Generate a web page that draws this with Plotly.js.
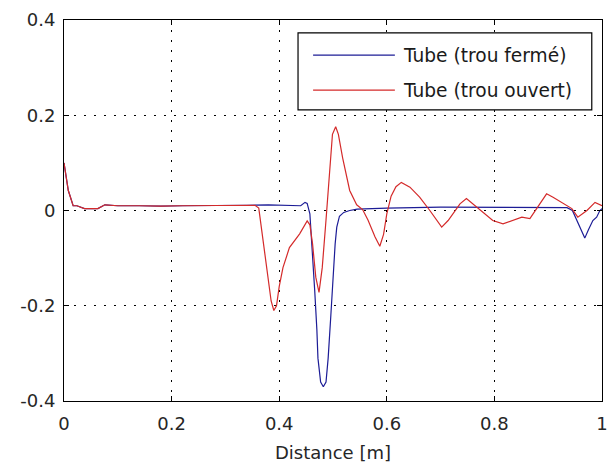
<!DOCTYPE html>
<html>
<head>
<meta charset="utf-8">
<script src="https://cdn.plot.ly/plotly-3.0.1.min.js"></script>
<style>
  html, body { margin: 0; padding: 0; background: #ffffff; }
  #chart { width: 608px; height: 464px; }
</style>
</head>
<body>
<div id="chart"></div>
<script>
// Reflection signal along the tube, closed hole vs. open hole
const seriesNames = ['Tube (trou fermé)', 'Tube (trou ouvert)'];

const closedX = [0, 0.008, 0.017, 0.024, 0.038, 0.063, 0.076, 0.1, 0.14, 0.18, 0.22, 0.26, 0.3, 0.34,
  0.38, 0.42, 0.44, 0.448, 0.452, 0.457, 0.462, 0.466, 0.47, 0.472, 0.477, 0.482, 0.487, 0.491,
  0.496, 0.5, 0.504, 0.507, 0.512, 0.52, 0.531, 0.545, 0.6, 0.7, 0.8, 0.9, 0.935, 0.945, 0.953,
  0.96, 0.968, 0.975, 0.983, 0.99, 0.996, 1.0];
const closedY = [0.1, 0.042, 0.01, 0.01, 0.004, 0.004, 0.012, 0.01, 0.01, 0.009, 0.01, 0.01, 0.01, 0.011,
  0.012, 0.011, 0.01, 0.017, 0.015, -0.007, -0.09, -0.168, -0.25, -0.31, -0.36, -0.37, -0.36, -0.31,
  -0.22, -0.14, -0.07, -0.035, -0.012, -0.004, 0.0, 0.003, 0.005, 0.007, 0.007, 0.007, 0.006, 0.0, -0.021,
  -0.04, -0.058, -0.04, -0.021, -0.014, 0.0, 0.004];

const openX = [0, 0.008, 0.017, 0.024, 0.038, 0.063, 0.076, 0.1, 0.14, 0.18, 0.22, 0.26, 0.3, 0.34,
  0.355, 0.362, 0.37, 0.378, 0.385, 0.39, 0.395, 0.4, 0.407, 0.419, 0.438, 0.452, 0.457, 0.462,
  0.468, 0.474, 0.48, 0.487, 0.493, 0.499, 0.505, 0.51, 0.518, 0.531, 0.544, 0.555, 0.565, 0.578,
  0.587, 0.594, 0.6, 0.608, 0.617, 0.627, 0.643, 0.661, 0.68, 0.702, 0.714, 0.736, 0.748, 0.76,
  0.776, 0.797, 0.816, 0.835, 0.851, 0.866, 0.881, 0.897, 0.909, 0.928, 0.944, 0.955, 0.972,
  0.987, 1.0];
const openY = [0.1, 0.042, 0.01, 0.01, 0.004, 0.004, 0.012, 0.01, 0.01, 0.009, 0.01, 0.01, 0.01, 0.01,
  0.011, 0.005, -0.06, -0.13, -0.19, -0.21, -0.2, -0.16, -0.12, -0.078, -0.049, -0.022, -0.03, -0.07,
  -0.14, -0.172, -0.12, -0.02, 0.08, 0.16, 0.176, 0.16, 0.11, 0.042, 0.012, 0.002, -0.02, -0.055,
  -0.075, -0.05, -0.007, 0.03, 0.05, 0.059, 0.049, 0.028, 0.0, -0.035, -0.021, 0.014, 0.025, 0.014,
  0.0, -0.021, -0.028, -0.021, -0.014, -0.017, 0.007, 0.035, 0.028, 0.014, 0.004, -0.014, 0.0,
  0.017, 0.01];

const xTicks = [0, 0.2, 0.4, 0.6, 0.8, 1];
const xTickText = ['0', '0.2', '0.4', '0.6', '0.8', '1'];
const yTicks = [-0.4, -0.2, 0, 0.2, 0.4];
const yTickText = ['-0.4', '-0.2', '0', '0.2', '0.4'];

const lineColors = ['#1c1c96', '#d42a2a'];
const textFont = { family: 'DejaVu Sans', size: 18, color: '#262626' };
const legendFont = { family: 'DejaVu Sans', size: 18.6, color: '#1a1a1a' };

const traces = [
  { x: closedX, y: closedY, name: seriesNames[0], type: 'scatter', mode: 'lines',
    line: { color: lineColors[0], width: 1.2 } },
  { x: openX, y: openY, name: seriesNames[1], type: 'scatter', mode: 'lines',
    line: { color: lineColors[1], width: 1.2 } }
];

const axisCommon = {
  showline: true, linecolor: '#000', linewidth: 1, mirror: 'ticks',
  ticks: 'inside', ticklen: 5, tickcolor: '#000', tickwidth: 1,
  showgrid: true, gridcolor: '#000', gridwidth: 1, griddash: '2px,8px',
  zeroline: false, tickfont: textFont, fixedrange: true
};

// Legend box drawn in paper coordinates (top-right of the axes)
const lg = { x0: 0.435, x1: 0.981, y0: 0.764, y1: 0.966, lx0: 0.463, lx1: 0.615, tx: 0.626, rows: [0.908, 0.816] };
const shapes = [
  { type: 'rect', xref: 'paper', yref: 'paper', x0: lg.x0, x1: lg.x1, y0: lg.y0, y1: lg.y1,
    line: { color: '#000', width: 1.2 }, fillcolor: '#fff', layer: 'above' }
];
const annotations = [];
seriesNames.forEach((name, i) => {
  shapes.push({ type: 'line', xref: 'paper', yref: 'paper', x0: lg.lx0, x1: lg.lx1,
    y0: lg.rows[i], y1: lg.rows[i], line: { color: lineColors[i], width: 1.2 }, layer: 'above' });
  annotations.push({ xref: 'paper', yref: 'paper', x: lg.tx, y: lg.rows[i], xanchor: 'left',
    yanchor: 'middle', text: name, showarrow: false, font: legendFont });
});

const layout = {
  width: 608, height: 464,
  margin: { l: 64, r: 6, t: 20, b: 63 },
  paper_bgcolor: '#fff', plot_bgcolor: '#fff',
  showlegend: false,
  xaxis: Object.assign({}, axisCommon, {
    range: [0, 1], tickvals: xTicks, ticktext: xTickText, ticklabelstandoff: 6,
    title: { text: 'Distance [m]', font: textFont, standoff: 13 }
  }),
  yaxis: Object.assign({}, axisCommon, {
    range: [-0.4, 0.4], tickvals: yTicks, ticktext: yTickText, ticklabelstandoff: 4
  }),
  shapes: shapes,
  annotations: annotations
};

Plotly.newPlot('chart', traces, layout, { displayModeBar: false, staticPlot: true });
</script>
</body>
</html>
